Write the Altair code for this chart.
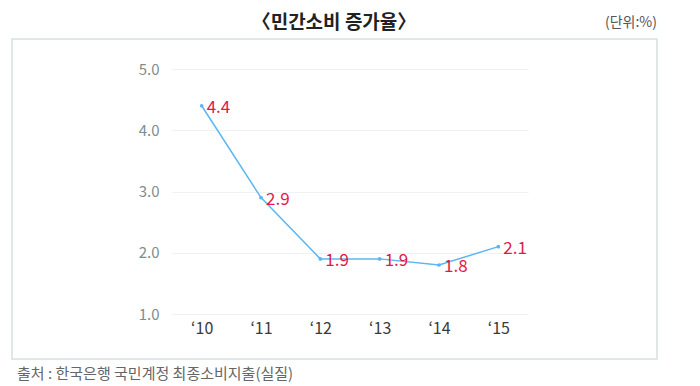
import altair as alt
import pandas as pd

years = ["‘10", "‘11", "‘12", "‘13", "‘14", "‘15"]
values = [4.4, 2.9, 1.9, 1.9, 1.8, 2.1]
y_ticks = [1.0, 2.0, 3.0, 4.0, 5.0]

title_text = "〈민간소비 증가율〉"
unit_text = "(단위:%)"
source_text = "출처 : 한국은행 국민계정 최종소비지출(실질)"

df = pd.DataFrame({"year": years, "value": values})

FONT = "Noto Sans CJK KR"
LINE = "#5cb6f2"
LABEL = "#e2184b"

x_enc = alt.X("year:N", sort=years, scale=alt.Scale(padding=0.5),
              axis=alt.Axis(title=None, labelAngle=0, ticks=False, domain=False, grid=False,
                            labelFontSize=16, labelColor="#3a3a3a", labelPadding=6, labelFont=FONT))
y_enc = alt.Y("value:Q", scale=alt.Scale(domain=[1, 5], nice=False, zero=False),
              axis=alt.Axis(title=None, values=y_ticks, format=".1f", ticks=False, domain=False,
                            grid=True, gridColor="#eef2f2", gridWidth=1,
                            labelFontSize=15, labelColor="#7d8e8e", labelPadding=13, labelFont=FONT))

one = alt.Data(values=[{"k": 1}])

frame = alt.Chart(one).mark_rect(fillOpacity=0, stroke="#d6e0df", strokeWidth=1.5).encode(
    x=alt.value(-160), x2=alt.value(485), y=alt.value(-30), y2=alt.value(290)
)

line = alt.Chart(df).mark_line(color=LINE, strokeWidth=1.5).encode(x=x_enc, y=y_enc)
pts = alt.Chart(df).mark_point(filled=True, color=LINE, size=14, opacity=1).encode(x=x_enc, y=y_enc)
labels = alt.Chart(df).mark_text(align="left", baseline="middle", dx=5, dy=2, fontSize=17,
                                 color=LABEL, font=FONT).encode(
    x=x_enc, y=y_enc, text=alt.Text("value:Q", format=".1f"))

title = alt.Chart(one).mark_text(fontSize=19, fontWeight="bold", color="#222222", font=FONT,
                                 align="center", baseline="middle").encode(
    x=alt.value(162), y=alt.value(-46), text=alt.value(title_text))
unit = alt.Chart(one).mark_text(fontSize=14, color="#555555", font=FONT,
                                align="right", baseline="middle").encode(
    x=alt.value(485), y=alt.value(-46), text=alt.value(unit_text))
source = alt.Chart(one).mark_text(fontSize=15, color="#666666", font=FONT,
                                  align="left", baseline="middle").encode(
    x=alt.value(-155), y=alt.value(305), text=alt.value(source_text))

chart = alt.layer(frame, line, pts, labels, title, unit, source).properties(
    width=356, height=245,
    padding={"left": 164, "top": 61, "right": 160, "bottom": 68},
    autosize=alt.AutoSizeParams(type="none"),
).configure_view(stroke=None)

chart.save("out.html", embed_options={"renderer": "svg", "actions": False})
